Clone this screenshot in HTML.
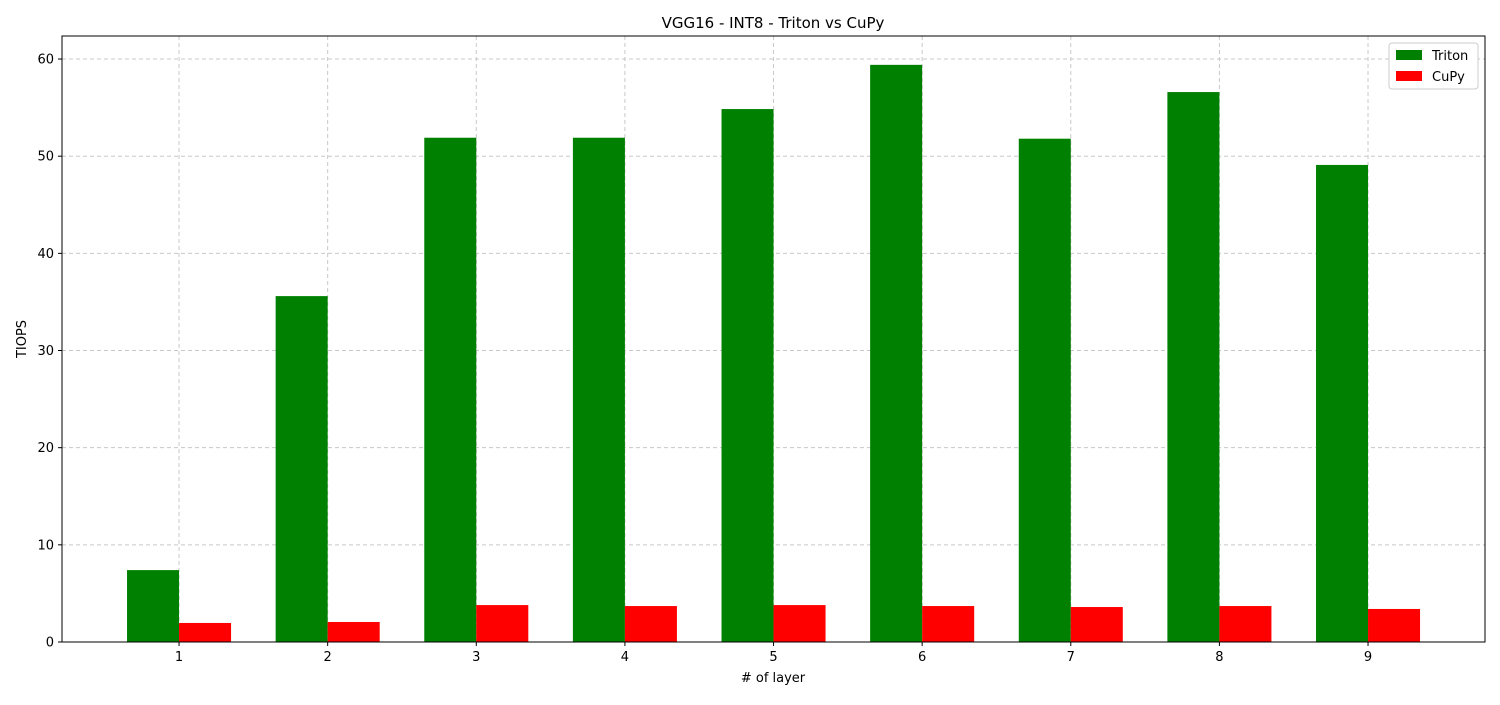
<!DOCTYPE html>
<html><head><meta charset="utf-8"><style>
body{margin:0;background:#fff;font-family:"Liberation Sans","DejaVu Sans",sans-serif;}
</style></head><body>
<svg id="chart" width="1500" height="700" xmlns="http://www.w3.org/2000/svg">
<rect width="1500" height="700" fill="#fff"/>
<text x="773" y="28" font-size="15" text-anchor="middle" font-family="DejaVu Sans, sans-serif">VGG16 - INT8 - Triton vs CuPy</text>
<g id="grid"></g><g id="bars"></g><g id="axes"></g>
<text x="773" y="682" font-size="13" text-anchor="middle" font-family="DejaVu Sans, sans-serif"># of layer</text>
<text transform="translate(26,339) rotate(-90)" font-size="13" text-anchor="middle" font-family="DejaVu Sans, sans-serif">TIOPS</text>
<g>
<rect x="1389" y="43" width="89" height="46" fill="#fff" stroke="#ccc" rx="3"/>
<rect x="1396" y="50" width="26" height="10" fill="#008000"/>
<text x="1432" y="60" font-size="13" font-family="DejaVu Sans, sans-serif">Triton</text>
<rect x="1396" y="71" width="26" height="10" fill="#ff0000"/>
<text x="1432" y="81" font-size="13" font-family="DejaVu Sans, sans-serif">CuPy</text>
</g>
</svg>
<script>
const categories=[1,2,3,4,5,6,7,8,9];
const tritonValues=[7.4,35.6,51.9,51.9,54.85,59.4,51.8,56.6,49.1];
const cupyValues=[1.96,2.06,3.8,3.7,3.8,3.7,3.6,3.7,3.4];
const yTicks=[0,10,20,30,40,50,60];
const L=62,R=1485,T=36,B=642,XMIN=0.2125,XMAX=9.787,YMAX=62.37;
const ns="http://www.w3.org/2000/svg";
const xs=v=>L+(v-XMIN)/(XMAX-XMIN)*(R-L);
const ys=v=>B-v/YMAX*(B-T);
const W=0.35;
function mk(tag,attrs,parent){const e=document.createElementNS(ns,tag);for(const k in attrs)e.setAttribute(k,attrs[k]);parent.appendChild(e);return e;}
const grid=document.getElementById('grid'),bars=document.getElementById('bars'),axes=document.getElementById('axes');
yTicks.forEach(t=>{const y=ys(t);
const g=mk('line',{x1:L,x2:R,y1:y,y2:y,stroke:'#c8c8c8','stroke-dasharray':'4,3','stroke-width':1},grid);


mk('line',{x1:L-4,x2:L,y1:y,y2:y,stroke:'#000'},axes);
const tx=mk('text',{x:L-8,y:y+4.5,'font-size':13,'text-anchor':'end','font-family':'DejaVu Sans, sans-serif'},axes);tx.textContent=t;

});
categories.forEach((c,i)=>{const x=xs(c);
const g=mk('line',{x1:x,x2:x,y1:T,y2:B,stroke:'#c8c8c8','stroke-dasharray':'4,3','stroke-width':1},grid);


const b1=mk('rect',{x:xs(c-W),y:ys(tritonValues[i]),width:xs(c)-xs(c-W),height:B-ys(tritonValues[i]),fill:'#008000'},bars);


const b2=mk('rect',{x:xs(c),y:ys(cupyValues[i]),width:xs(c+W)-xs(c),height:B-ys(cupyValues[i]),fill:'#ff0000'},bars);


mk('line',{x1:x,x2:x,y1:B,y2:B+4,stroke:'#000'},axes);
const tx=mk('text',{x:x,y:B+19,'font-size':13,'text-anchor':'middle','font-family':'DejaVu Sans, sans-serif'},axes);tx.textContent=c;

});
const fr=mk('rect',{x:L,y:T,width:R-L,height:B-T,fill:'none',stroke:'#000','stroke-width':1},axes);


</script>
</body></html>
